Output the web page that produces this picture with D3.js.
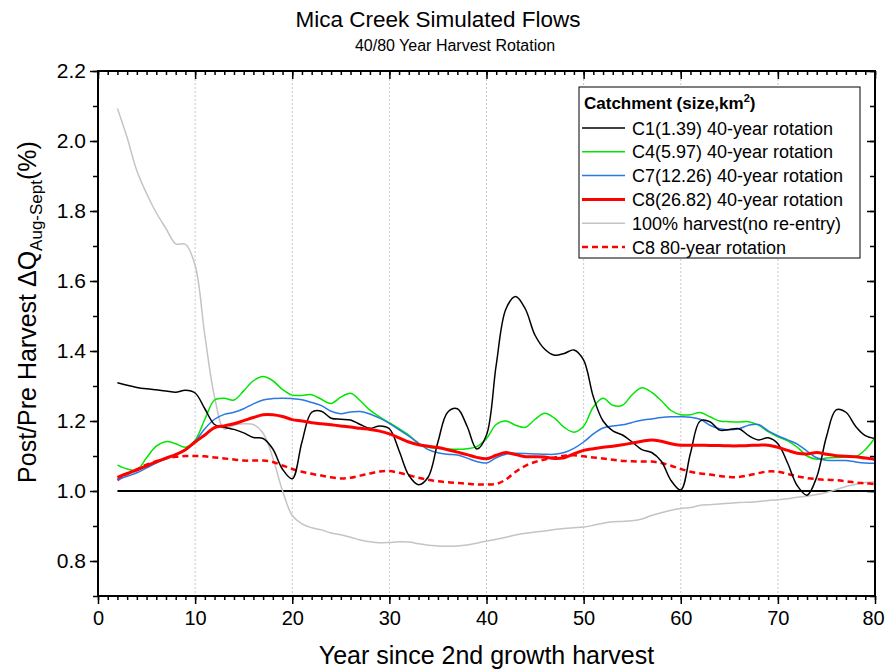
<!DOCTYPE html>
<html>
<head>
<meta charset="utf-8">
<script src="https://cdn.jsdelivr.net/npm/d3@7"></script>
<style>
  body { margin: 0; background: #fff; }
  svg { font-family: Arial, "Liberation Sans", sans-serif; }
</style>
</head>
<body>
<svg width="885" height="671"></svg>
<script>
// Mica Creek simulated flows, 40/80 year rotation

const years = [2, 3, 4, 5, 6, 7, 8, 9, 10, 11, 12, 13, 14, 15, 16, 17, 18, 19, 20,
    21, 22, 23, 24, 25, 26, 27, 28, 29, 30, 31, 32, 33, 34, 35, 36, 37, 38, 39, 40,
    41, 42, 43, 44, 45, 46, 47, 48, 49, 50, 51, 52, 53, 54, 55, 56, 57, 58, 59, 60,
    61, 62, 63, 64, 65, 66, 67, 68, 69, 70, 71, 72, 73, 74, 75, 76, 77, 78, 79, 80];

const c1 = [1.309, 1.302, 1.296, 1.292, 1.289, 1.286, 1.282, 1.288, 1.280, 1.235,
    1.190, 1.182, 1.176, 1.166, 1.153, 1.150, 1.120, 1.062, 1.035,
    1.140, 1.225, 1.228, 1.208, 1.205, 1.203, 1.190, 1.179, 1.186, 1.178,
    1.115, 1.045, 1.018, 1.040, 1.140, 1.225, 1.235, 1.185, 1.120, 1.160,
    1.360, 1.520, 1.556, 1.520, 1.445, 1.405, 1.388, 1.393, 1.403, 1.374,
    1.269, 1.200, 1.172, 1.160, 1.140, 1.118, 1.110, 1.085, 1.030, 1.003,
    1.108, 1.200, 1.198, 1.174, 1.176, 1.178, 1.158, 1.146, 1.152, 1.135,
    1.080, 1.015, 0.988, 1.040, 1.155, 1.232, 1.225, 1.185, 1.158, 1.150];

const c4 = [1.074, 1.063, 1.060, 1.095, 1.128, 1.141, 1.135, 1.125, 1.145, 1.205,
    1.260, 1.265, 1.260, 1.286, 1.315, 1.327, 1.315, 1.290, 1.274,
    1.273, 1.275, 1.262, 1.250, 1.268, 1.279, 1.258, 1.231, 1.212, 1.195,
    1.178, 1.160, 1.135, 1.125, 1.122, 1.120, 1.119, 1.121, 1.127, 1.150,
    1.190, 1.200, 1.188, 1.182, 1.205, 1.222, 1.208, 1.182, 1.168, 1.185,
    1.240, 1.265, 1.245, 1.245, 1.275, 1.295, 1.282, 1.258, 1.230, 1.218,
    1.218, 1.224, 1.212, 1.200, 1.198, 1.197, 1.198, 1.188, 1.170, 1.155,
    1.143, 1.125, 1.100, 1.091, 1.094, 1.096, 1.097, 1.098, 1.118, 1.152];

const c7 = [1.033, 1.042, 1.052, 1.066, 1.080, 1.092, 1.105, 1.118, 1.142, 1.178,
    1.205, 1.219, 1.225, 1.235, 1.249, 1.260, 1.264, 1.265, 1.264,
    1.261, 1.253, 1.244, 1.228, 1.221, 1.226, 1.227, 1.220, 1.208, 1.193,
    1.175, 1.157, 1.137, 1.118, 1.109, 1.105, 1.103, 1.094, 1.084, 1.080,
    1.095, 1.105, 1.108, 1.107, 1.106, 1.105, 1.105, 1.110, 1.122, 1.140,
    1.163, 1.180, 1.186, 1.189, 1.196, 1.202, 1.206, 1.210, 1.212, 1.212,
    1.211, 1.205, 1.188, 1.178, 1.175, 1.178, 1.188, 1.190, 1.172, 1.158,
    1.146, 1.134, 1.114, 1.095, 1.088, 1.087, 1.087, 1.083, 1.080, 1.079];

const c8 = [1.039, 1.050, 1.060, 1.072, 1.083, 1.094, 1.104, 1.118, 1.140, 1.160,
    1.181, 1.186, 1.192, 1.201, 1.210, 1.218, 1.218, 1.213, 1.204,
    1.200, 1.195, 1.192, 1.189, 1.186, 1.183, 1.179, 1.176, 1.171, 1.163,
    1.152, 1.140, 1.132, 1.128, 1.124, 1.118, 1.111, 1.104, 1.096, 1.092,
    1.102, 1.110, 1.104, 1.098, 1.098, 1.097, 1.093, 1.095, 1.106, 1.116,
    1.121, 1.125, 1.128, 1.132, 1.137, 1.142, 1.146, 1.142, 1.135, 1.131,
    1.131, 1.131, 1.130, 1.130, 1.129, 1.129, 1.130, 1.131, 1.131, 1.125,
    1.116, 1.108, 1.106, 1.110, 1.105, 1.101, 1.099, 1.098, 1.094, 1.091];

const fullHarvest = [2.093, 2.010, 1.915, 1.850, 1.795, 1.750, 1.706, 1.705, 1.645, 1.445,
    1.269, 1.177, 1.188, 1.192, 1.190, 1.165, 1.095, 1.000, 0.930,
    0.906, 0.895, 0.889, 0.880, 0.875, 0.868, 0.860, 0.855, 0.852, 0.853,
    0.855, 0.854, 0.849, 0.845, 0.843, 0.842, 0.843, 0.846, 0.851, 0.857,
    0.862, 0.868, 0.874, 0.879, 0.883, 0.886, 0.890, 0.893, 0.895, 0.897,
    0.902, 0.908, 0.912, 0.913, 0.915, 0.920, 0.930, 0.938, 0.945, 0.950,
    0.953, 0.959, 0.961, 0.963, 0.965, 0.967, 0.968, 0.970, 0.973, 0.975,
    0.978, 0.982, 0.985, 0.990, 0.996, 1.004, 1.013, 1.019, 1.024, 1.026];

const c8rot80 = [1.031, 1.048, 1.062, 1.075, 1.085, 1.093, 1.098, 1.100, 1.100, 1.099,
    1.096, 1.093, 1.090, 1.087, 1.087, 1.087, 1.083, 1.073, 1.063,
    1.055, 1.049, 1.044, 1.039, 1.036, 1.038, 1.044, 1.050, 1.056, 1.057,
    1.052, 1.045, 1.038, 1.032, 1.028, 1.025, 1.023, 1.021, 1.019, 1.019,
    1.020, 1.033, 1.055, 1.072, 1.083, 1.090, 1.096, 1.101, 1.102, 1.099,
    1.096, 1.093, 1.089, 1.086, 1.085, 1.084, 1.084, 1.080, 1.072, 1.063,
    1.055, 1.050, 1.047, 1.043, 1.040, 1.040, 1.045, 1.051, 1.056, 1.055,
    1.049, 1.042, 1.037, 1.034, 1.032, 1.031, 1.028, 1.024, 1.022, 1.020];

const legendLabels = [
    'C1(1.39) 40-year rotation',
    'C4(5.97) 40-year rotation',
    'C7(12.26) 40-year rotation',
    'C8(26.82) 40-year rotation',
    '100% harvest(no re-entry)',
    'C8 80-year rotation'
];

const xTicks = [0, 10, 20, 30, 40, 50, 60, 70, 80];
const yTicks = [0.8, 1.0, 1.2, 1.4, 1.6, 1.8, 2.0, 2.2];

const series = [
    { name: legendLabels[0], values: c1, color: '#000000', width: 1.5, dash: null },
    { name: legendLabels[1], values: c4, color: '#00e600', width: 1.5, dash: null },
    { name: legendLabels[2], values: c7, color: '#2a78e4', width: 1.5, dash: null },
    { name: legendLabels[3], values: c8, color: '#ff0000', width: 3, dash: null },
    { name: legendLabels[4], values: fullHarvest, color: '#c4c4c4', width: 1.5, dash: null },
    { name: legendLabels[5], values: c8rot80, color: '#ff0000', width: 2.5, dash: '6,4' }
];

const plotL = 98, plotR = 875, plotT = 71, plotB = 596;

const svg = d3.select('svg');

const x = d3.scaleLinear().domain([0, 80]).range([plotL, plotR]);
const y = d3.scaleLinear().domain([0.7, 2.2]).range([plotB, plotT]);

// vertical dotted grid
svg.append('g')
    .selectAll('line')
    .data(xTicks.filter(d => d > 0 && d < 80))
    .join('line')
    .attr('x1', d => x(d))
    .attr('x2', d => x(d))
    .attr('y1', plotT)
    .attr('y2', plotB)
    .attr('stroke', '#c8c8c8')
    .attr('stroke-width', 1)
    .attr('stroke-dasharray', '2,2');

// 1.0 reference line
svg.append('line')
    .attr('x1', x(years[0]))
    .attr('x2', x(years[years.length - 1]))
    .attr('y1', y(1))
    .attr('y2', y(1))
    .attr('stroke', '#000')
    .attr('stroke-width', 2);

const line = d3.line()
    .x((d, i) => x(years[i]))
    .y(d => y(d))
    .curve(d3.curveCatmullRom.alpha(0.5));

// draw gray first so it sits underneath
const drawOrder = [4, 5, 1, 2, 0, 3];
svg.append('g')
    .selectAll('path')
    .data(drawOrder.map(i => series[i]))
    .join('path')
    .attr('d', d => line(d.values))
    .attr('fill', 'none')
    .attr('stroke', d => d.color)
    .attr('stroke-width', d => d.width)
    .attr('stroke-dasharray', d => d.dash)
    .attr('stroke-linejoin', 'round');

// axes
const minorX = d3.range(0, 81, 1);
const minorY = d3.range(7, 23, 1).map(d => d / 10);

function styleAxis(g, size) {
    g.select('.domain').remove();
    g.selectAll('.tick line').attr('stroke', '#000').attr('stroke-width', 1.5);
    g.selectAll('.tick text').attr('fill', '#000').style('font-size', (size || 20) + 'px')
        .style('font-family', 'Arial, "Liberation Sans", sans-serif');
}

// bottom
svg.append('g')
    .attr('transform', `translate(0,${plotB})`)
    .call(d3.axisBottom(x).tickValues(minorX).tickSize(4).tickFormat(''))
    .call(styleAxis);
const xAxisG = svg.append('g')
    .attr('transform', `translate(0,${plotB})`)
    .call(d3.axisBottom(x).tickValues(xTicks).tickSize(8).tickPadding(7).tickFormat(d3.format('d')))
    .call(styleAxis);
// keep the last label inside the window
xAxisG.selectAll('.tick text').filter(d => d === 80).attr('dx', -2);

// top (ticks pointing down into the plot)
svg.append('g')
    .attr('transform', `translate(0,${plotT})`)
    .call(d3.axisBottom(x).tickValues(minorX).tickSize(4).tickFormat(''))
    .call(styleAxis);
svg.append('g')
    .attr('transform', `translate(0,${plotT})`)
    .call(d3.axisBottom(x).tickValues(xTicks).tickSize(8).tickFormat(''))
    .call(styleAxis);

// left
svg.append('g')
    .attr('transform', `translate(${plotL},0)`)
    .call(d3.axisLeft(y).tickValues(minorY).tickSize(5).tickFormat(''))
    .call(styleAxis);
svg.append('g')
    .attr('transform', `translate(${plotL},0)`)
    .call(d3.axisLeft(y).tickValues(yTicks).tickSize(8).tickPadding(4).tickFormat(d3.format('.1f')))
    .call(g => styleAxis(g, 21));

// right (ticks pointing into the plot)
svg.append('g')
    .attr('transform', `translate(${plotR},0)`)
    .call(d3.axisLeft(y).tickValues(minorY).tickSize(5).tickFormat(''))
    .call(styleAxis);
svg.append('g')
    .attr('transform', `translate(${plotR},0)`)
    .call(d3.axisLeft(y).tickValues(yTicks).tickSize(8).tickFormat(''))
    .call(styleAxis);

// frame
svg.append('rect')
    .attr('x', plotL)
    .attr('y', plotT)
    .attr('width', plotR - plotL)
    .attr('height', plotB - plotT)
    .attr('fill', 'none')
    .attr('stroke', '#000')
    .attr('stroke-width', 2);

// titles
svg.append('text')
    .attr('x', 438)
    .attr('y', 27)
    .attr('text-anchor', 'middle')
    .style('font-size', '22.5px')
    .text('Mica Creek Simulated Flows');

svg.append('text')
    .attr('x', 455)
    .attr('y', 51)
    .attr('text-anchor', 'middle')
    .style('font-size', '16px')
    .text('40/80 Year Harvest Rotation');

svg.append('text')
    .attr('x', (plotL + plotR) / 2)
    .attr('y', 664)
    .attr('text-anchor', 'middle')
    .style('font-size', '25px')
    .text('Year since 2nd growth harvest');

const yLabel = svg.append('text')
    .attr('transform', 'translate(36,312) rotate(-90)')
    .attr('text-anchor', 'middle')
    .style('font-size', '25px');
yLabel.append('tspan').text('Post/Pre Harvest \u0394Q');
yLabel.append('tspan').attr('dy', 6).style('font-size', '17px').text('Aug-Sept');
yLabel.append('tspan').attr('dy', -6).text('(%)');

// legend
const legend = svg.append('g').attr('transform', 'translate(579,87)');
legend.append('rect')
    .attr('width', 281)
    .attr('height', 171)
    .attr('fill', '#fff')
    .attr('stroke', '#000')
    .attr('stroke-width', 1);

const legTitle = legend.append('text')
    .attr('x', 5)
    .attr('y', 22)
    .style('font-size', '17px')
    .style('font-weight', 'bold');
legTitle.append('tspan').text('Catchment (size,km');
legTitle.append('tspan').attr('dy', -7).style('font-size', '11px').text('2');
legTitle.append('tspan').attr('dy', 7).text(')');

const rows = legend.selectAll('g.row')
    .data(series)
    .join('g')
    .attr('class', 'row')
    .attr('transform', (d, i) => `translate(0,${41 + i * 23.8})`);

rows.append('line')
    .attr('x1', 3)
    .attr('x2', 46)
    .attr('stroke', d => d.color)
    .attr('stroke-width', d => d.width)
    .attr('stroke-dasharray', d => d.dash);

rows.append('text')
    .attr('x', 53)
    .attr('y', 6.5)
    .style('font-size', '18px')
    .text(d => d.name);
</script>
</body>
</html>
